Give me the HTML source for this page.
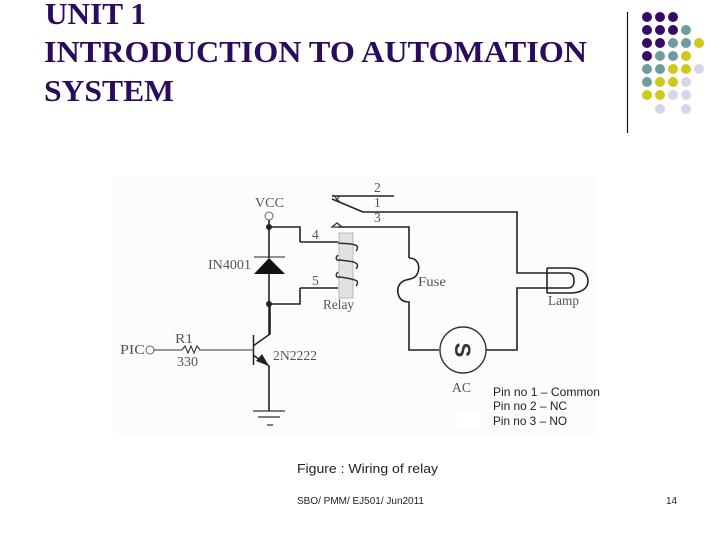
<!DOCTYPE html>
<html><head><meta charset="utf-8"><style>
html,body{margin:0;padding:0;background:#fff}
svg{display:block}
.t{font-family:"Liberation Serif",serif;font-weight:bold;font-size:31px;fill:#2a0b5e}
.c{font-family:"Liberation Serif",serif;font-size:13.5px;fill:#555}
.s{font-family:"Liberation Sans",sans-serif;fill:#222}
.w{fill:none;stroke:#222;stroke-width:1.6}
.n{fill:none;stroke:#333;stroke-width:1}
</style></head><body>
<svg width="720" height="540" viewBox="0 0 720 540" xmlns="http://www.w3.org/2000/svg">
<rect width="720" height="540" fill="#fff"/>
<text class="t" x="45" y="24" textLength="101" lengthAdjust="spacingAndGlyphs">UNIT 1</text>
<text class="t" x="44" y="62" textLength="543" lengthAdjust="spacingAndGlyphs">INTRODUCTION TO AUTOMATION</text>
<text class="t" x="44" y="101" textLength="130" lengthAdjust="spacingAndGlyphs">SYSTEM</text>

<line x1="627.5" y1="12" x2="627.5" y2="133" stroke="#111" stroke-width="1.2"/>
<g fill="#350b66">
<circle cx="647" cy="17" r="5"/><circle cx="660" cy="17" r="5"/><circle cx="673" cy="17" r="5"/>
<circle cx="647" cy="30" r="5"/><circle cx="660" cy="30" r="5"/><circle cx="673" cy="30" r="5"/>
<circle cx="647" cy="43" r="5"/><circle cx="660" cy="43" r="5"/>
<circle cx="647" cy="56" r="5"/>
</g>
<g fill="#6f9c9c">
<circle cx="686" cy="30" r="5"/>
<circle cx="673" cy="43" r="5"/><circle cx="686" cy="43" r="5"/>
<circle cx="660" cy="56" r="5"/><circle cx="673" cy="56" r="5"/>
<circle cx="647" cy="69" r="5"/><circle cx="660" cy="69" r="5"/>
<circle cx="647" cy="82" r="5"/>
</g>
<g fill="#cfc91a">
<circle cx="699" cy="43" r="5"/>
<circle cx="686" cy="56" r="5"/>
<circle cx="673" cy="69" r="5"/><circle cx="686" cy="69" r="5"/>
<circle cx="660" cy="82" r="5"/><circle cx="673" cy="82" r="5"/>
<circle cx="647" cy="95" r="5"/><circle cx="660" cy="95" r="5"/>
</g>
<g fill="#d6d6e8">
<circle cx="699" cy="69" r="5"/>
<circle cx="686" cy="82" r="5"/>
<circle cx="673" cy="95" r="5"/><circle cx="686" cy="95" r="5"/>
<circle cx="660" cy="109" r="5"/><circle cx="686" cy="109" r="5"/>
</g>

<rect x="113" y="176" width="481" height="261" fill="#fcfcfa"/>
<rect x="457" y="412" width="23" height="16" fill="#fff"/>

<!-- relay -->
<rect x="339" y="233" width="14" height="65" fill="#e2e2e2" stroke="#aaa" stroke-width="0.8"/>
<circle cx="269" cy="216" r="4" fill="none" stroke="#666" stroke-width="1"/>
<path class="w" d="M269 220V258M269 274V334"/>
<circle cx="269" cy="227" r="3" fill="#222"/>
<circle cx="269" cy="304" r="3" fill="#222"/>
<path class="w" d="M269 227H300V242"/>
<path class="w" stroke-width="1.2" d="M300 242H338"/>
<path class="w" d="M269 304H300V288"/>
<path class="w" stroke-width="1.2" d="M300 288H338"/>
<path d="M269 258L285 274H254Z" fill="#111"/>
<line x1="254" y1="257" x2="285" y2="257" stroke="#222" stroke-width="1"/>
<path class="n" style="stroke-width:1.5" d="M338 243C345 244 353 243 357 246C358 248 357 250 356 251M338 255C335 258 336 261 340 260C347 261 354 261 357 264C358 266 357 268 356 269M338 272C335 275 336 278 340 277C347 278 354 279 357 281C358 283 357 285 356 286"/>

<!-- switch -->
<path class="w" d="M332 196H394"/>
<path class="w" d="M332 199L363 212H517V273H547"/>
<path class="n" d="M333 195L341 203M340 196L335 201"/>
<path class="w" d="M338 227H409V258"/>
<path class="n" style="stroke-width:1.3" d="M332 227L337 223L342 227Z"/>

<!-- fuse -->
<path class="w" d="M409 258C418 258 420 266 418 272C416 279 410 279 406 280C399 282 397 288 398 293C399 299 403 302 409 302V350H439"/>
<circle cx="463" cy="350" r="23" fill="none" stroke="#333" stroke-width="1.4"/>
<text x="463" y="358" text-anchor="middle" transform="rotate(90 463 350)" font-family="'Liberation Sans',sans-serif" font-weight="bold" font-size="22" fill="#333">S</text>
<path class="w" d="M486 350H517V288H547"/>

<!-- lamp -->
<path class="w" d="M547 268V293"/>
<path class="w" d="M547 268H570C582 268 588 274 588 281C588 288 582 293 570 293H547"/>
<path class="w" d="M547 273H568C573 273 574 277 574 281C574 285 572 288 568 288H547"/>

<!-- transistor -->
<circle cx="150" cy="350" r="4" fill="none" stroke="#666" stroke-width="1"/>
<path class="n" d="M154 350H182"/>
<path class="n" style="stroke-width:1.1" d="M182 350L185 346L188 353L191 346L194 353L197 346L200 350H253"/>
<line x1="253.500" y1="335" x2="253.500" y2="365" stroke="#222" stroke-width="1.5"/>
<path class="w" d="M253 346L270 334V304"/>
<path class="w" d="M253 355L269 366V411"/>
<path d="M269 366L256 361L262 354Z" fill="#222"/>
<path class="n" style="stroke-width:1.2" d="M253 411H285M258 417H280M267 425H273"/>

<!-- labels -->
<g class="c">
<text x="255" y="207" textLength="29" lengthAdjust="spacingAndGlyphs">VCC</text>
<text x="208" y="269" textLength="43" lengthAdjust="spacingAndGlyphs">IN4001</text>
<text x="312" y="239">4</text>
<text x="312" y="285">5</text>
<text x="323" y="309" textLength="31" lengthAdjust="spacingAndGlyphs">Relay</text>
<text x="374" y="192">2</text>
<text x="374" y="207">1</text>
<text x="374" y="222">3</text>
<text x="418" y="286" textLength="28" lengthAdjust="spacingAndGlyphs">Fuse</text>
<text x="548" y="305" textLength="31" lengthAdjust="spacingAndGlyphs">Lamp</text>
<text x="452" y="392" textLength="19" lengthAdjust="spacingAndGlyphs">AC</text>
<text x="120" y="354" textLength="25" lengthAdjust="spacingAndGlyphs">PIC</text>
<text x="175" y="343" textLength="18" lengthAdjust="spacingAndGlyphs">R1</text>
<text x="177" y="366" textLength="21" lengthAdjust="spacingAndGlyphs">330</text>
<text x="273" y="360" textLength="44" lengthAdjust="spacingAndGlyphs">2N2222</text>
</g>

<g class="s" font-size="12">
<text x="493" y="396" textLength="107" lengthAdjust="spacingAndGlyphs">Pin no 1 – Common</text>
<text x="493" y="410" textLength="74" lengthAdjust="spacingAndGlyphs">Pin no 2 – NC</text>
<text x="493" y="425" textLength="74" lengthAdjust="spacingAndGlyphs">Pin no 3 – NO</text>
</g>
<text class="s" x="297" y="473" font-size="13" textLength="141" lengthAdjust="spacingAndGlyphs">Figure : Wiring of relay</text>
<text class="s" x="297" y="504" font-size="10" textLength="127" lengthAdjust="spacingAndGlyphs">SBO/ PMM/ EJ501/ Jun2011</text>
<text class="s" x="666" y="504" font-size="10">14</text>
</svg>
</body></html>
